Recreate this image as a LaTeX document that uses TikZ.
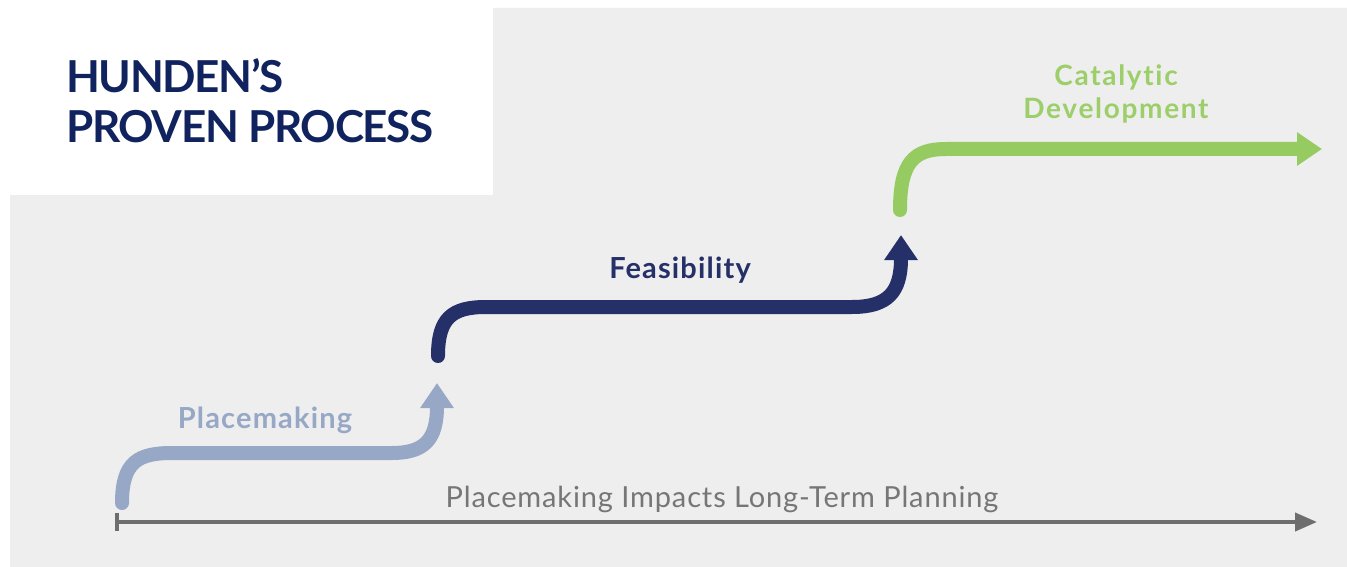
\documentclass[tikz,border=0pt]{standalone}
\usepackage{fontspec}
\setmainfont{Lato}[Ligatures=NoCommon]
\usetikzlibrary{arrows.meta}

\definecolor{paper}{RGB}{238,238,238}
\definecolor{navy}{RGB}{16,35,94}
\definecolor{feasblue}{RGB}{37,48,104}
\definecolor{placeblue}{RGB}{151,168,198}
\definecolor{catgreen}{RGB}{150,203,97}
\definecolor{catgreentext}{RGB}{156,207,106}
\definecolor{timegrey}{RGB}{110,110,110}
\definecolor{timetext}{RGB}{118,118,118}

\tikzset{
  stage/.style={line width=14pt, line cap=round,
    -{Triangle[length=25pt,width=32pt]}},
  timeline/.style={line width=4pt, draw=timegrey,
    {Bar[width=18pt,line width=4pt]}-{Triangle[length=22pt,width=18pt]}},
  label/.style={inner sep=0pt,
    font=\bfseries\fontsize{29}{33}\selectfont\addfontfeatures{LetterSpace=4}},
  titletext/.style={anchor=base west, inner sep=0pt, text=navy,
    font=\bfseries\fontsize{44}{50}\selectfont\addfontfeatures{LetterSpace=-3}},
}

\begin{document}
\begin{tikzpicture}[x=1pt,y=-1pt]
  \useasboundingbox (0,0) rectangle (1347,567);
  % backdrop with the white title panel cut out
  \fill[white] (0,0) rectangle (1347,567);
  \fill[paper] (10,567) -- (10,195) -- (493,195) -- (493,8) -- (1347,8) -- (1347,567) -- cycle;

  % title
  \node[titletext] (t1) at (66,93) {HUNDEN’S};
  \node[titletext] (t2) at (66,143) {PROVEN PROCESS};

  % anchor points of the three stages
  \coordinate (p0) at (122,503);
  \coordinate (p1) at (437,383);
  \coordinate (f0) at (438,356);
  \coordinate (f1) at (901,235);
  \coordinate (c0) at (900,210);
  \coordinate (c1) at (1322,149);
  \coordinate (tl0) at (115,522);
  \coordinate (tl1) at (1317,522);

  % timeline
  \draw[timeline] (tl0) -- (tl1);
  \node[anchor=base, inner sep=0pt, text=timetext,
        font=\fontsize{29}{33}\selectfont\addfontfeatures{LetterSpace=3}] (tl) at (722,507)
        {Placemaking Impacts Long-Term Planning};

  % Placemaking
  \draw[stage, draw=placeblue]
    (p0) .. controls (122,462) and (138,453) .. (172,453)
    -- (392,453) .. controls (424,453) and (437,440) .. (p1);
  \node[label, anchor=base, text=placeblue] (pl) at (265,428) {Placemaking};

  % Feasibility
  \draw[stage, draw=feasblue]
    (f0) .. controls (438,318) and (452,307) .. (486,307)
    -- (852,307) .. controls (888,307) and (901,292) .. (f1);
  \node[label, anchor=base, text=feasblue] (fe) at (680,278) {Feasibility};

  % Catalytic Development
  \draw[stage, draw=catgreen]
    (c0) .. controls (900,162) and (914,149) .. (946,149) -- (c1);
  \node[label, anchor=base, text=catgreentext,
        font=\fontsize{28}{33}\selectfont\bfseries\addfontfeatures{LetterSpace=6}] (ca) at (1116,86) {Catalytic};
  \node[label, anchor=base, text=catgreentext,
        font=\fontsize{28}{33}\selectfont\bfseries\addfontfeatures{LetterSpace=6}] (cd) at (1116,119) {Development};
\end{tikzpicture}
\end{document}
